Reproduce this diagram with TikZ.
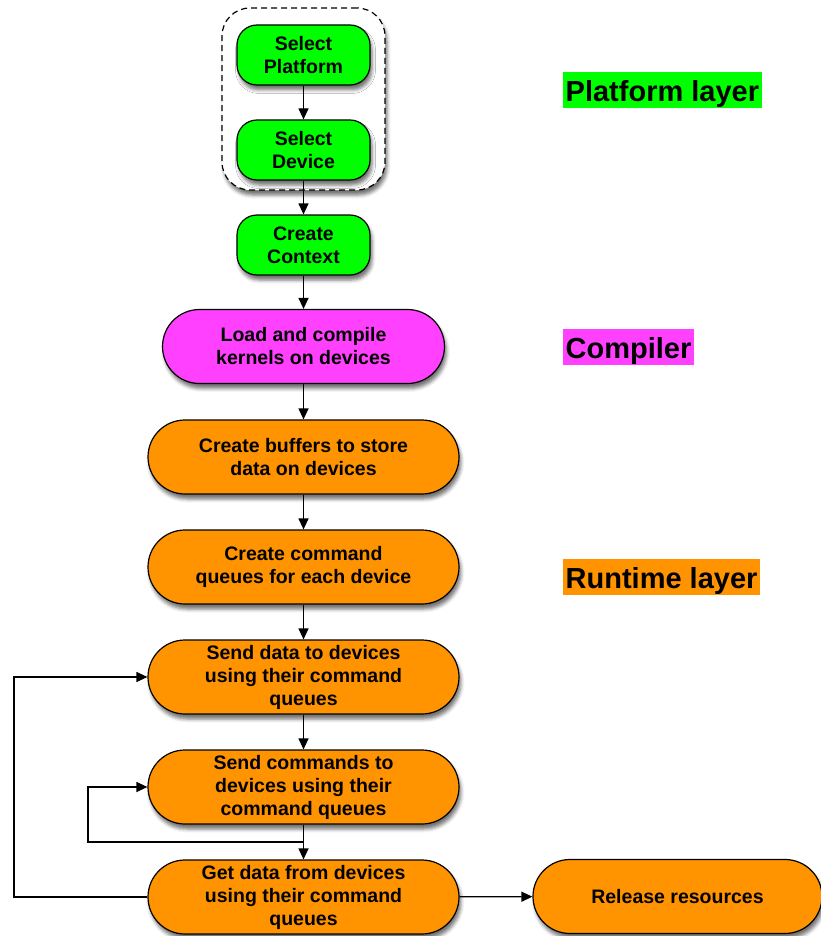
\documentclass[tikz,border=0pt]{standalone}
\usepackage{fontspec}
\setmainfont{Liberation Sans}
\usetikzlibrary{arrows.meta,calc,shadows.blur}
\definecolor{platgreen}{RGB}{0,255,0}
\definecolor{compmag}{RGB}{255,64,255}
\definecolor{runorange}{RGB}{255,147,0}
\begin{document}
\begin{tikzpicture}[x=1pt,y=-1pt,
  softshadow/.style={blur shadow={shadow xshift=2pt, shadow yshift=-5pt,
      shadow blur radius=3.5pt, shadow opacity=55}},
  box/.style={draw=black, line width=1.2pt, align=center, inner sep=0pt,
    font=\fontsize{19.5}{23}\selectfont\bfseries, softshadow},
  smallbox/.style={box, fill=platgreen, minimum width=133pt, minimum height=60pt,
    rounded corners=20pt},
  widebox/.style={box, minimum width=311pt, minimum height=74pt, rounded corners=37pt},
  runbox/.style={widebox, fill=runorange},
  arr/.style={line width=1.2pt, -{Triangle[length=11pt,width=10pt]}},
  tag/.style={anchor=west, inner xsep=2.5pt, inner ysep=0pt, text height=29pt,
    text depth=7pt, font=\fontsize{29}{29}\selectfont\bfseries}
]
\useasboundingbox (0,0) rectangle (821,936);

% dashed group around the platform selection steps
\node[draw=black, line width=1.2pt, dash pattern=on 6pt off 4pt, fill=white,
  rounded corners=28pt, minimum width=163pt, minimum height=182pt, softshadow]
  (grp) at (303.5,99) {};

% platform layer
\node[smallbox] (plat) at (303.5,55) {Select\\Platform};
\node[smallbox] (dev) at (303.5,150) {Select\\Device};
\node[smallbox] (ctx) at (303.5,245) {Create\\Context};

% compiler
\node[widebox, fill=compmag, minimum width=282pt] (load) at (303.5,346.5)
  {Load and compile\\kernels on devices};

% runtime layer
\node[runbox] (buf) at (303.5,457) {Create buffers to store\\data on devices};
\node[runbox] (queue) at (303.5,567) {Create command\\queues for each device};
\node[runbox] (send) at (303.5,677) {Send data to devices\\using their command\\queues};
\node[runbox] (cmds) at (303.5,787) {Send commands to\\devices using their\\command queues};
\node[runbox] (get) at (303.5,897) {Get data from devices\\using their command\\queues};
\node[runbox, minimum width=289pt] (rel) at (677.5,896.5) {Release resources};

% layer labels
\node[tag, fill=platgreen] (tplat) at (563,90.3) {Platform layer};
\node[tag, fill=compmag] (tcomp) at (563,347.3) {Compiler};
\node[tag, fill=runorange] (trun) at (563,577.3) {Runtime layer};

% main flow
\draw[arr] (plat) -- (dev);
\draw[arr] (dev) -- (ctx);
\draw[arr] (ctx) -- (load);
\draw[arr] (load) -- (buf);
\draw[arr] (buf) -- (queue);
\draw[arr] (queue) -- (send);
\draw[arr] (send) -- (cmds);
\draw[arr] (cmds) -- (get);
\draw[arr] (get) -- (rel);

% loops back
\coordinate (split) at ($(cmds.south)!0.5!(get.north)$);
\coordinate (inner) at (88,0);
\coordinate (outer) at (14,0);
\draw[arr] (split) -- (split -| inner) |- (cmds.west);
\draw[arr] (get.west) -- (get.west -| outer) |- (send.west);
\end{tikzpicture}
\end{document}
